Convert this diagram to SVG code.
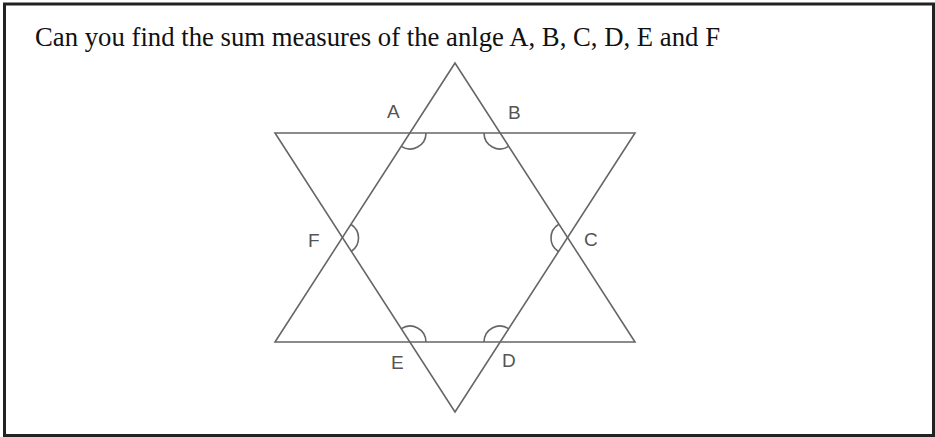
<svg xmlns="http://www.w3.org/2000/svg" width="935" height="437" viewBox="0 0 935 437">
<style>
.frame{fill:#fff;stroke:#222;stroke-width:3}
.title{font-family:"Liberation Serif","Times New Roman",serif;font-size:27px;fill:#111}
.line{fill:none;stroke:#666;stroke-width:1.6;stroke-linejoin:miter}
.arc{fill:none;stroke:#666;stroke-width:1.6}
.lbl{font-family:"Liberation Sans",Arial,sans-serif;font-size:19px;fill:#555}
</style>
<rect class="frame" x="4.5" y="4" width="929" height="431.5"/>
<text class="title" x="35" y="46" textLength="685" lengthAdjust="spacingAndGlyphs">Can you find the sum measures of the anlge A, B, C, D, E and F</text>
<g id="connectors">
<polygon id="up-triangle" class="line" points="455,63 275,342 635,342"/>
<polygon id="down-triangle" class="line" points="275,133 635,133 455,412"/>
</g>
<g id="A">
<path class="arc" d="M426,133 A16,16 0 0 1 401.3,146.4"/>
<text class="lbl" x="387" y="118">A</text>
</g>
<g id="B">
<path class="arc" d="M508.6,146.4 A16,16 0 0 1 484,133"/>
<text class="lbl" x="508" y="119">B</text>
</g>
<g id="C">
<path class="arc" d="M558.4,224.5 A16,16 0 0 0 558.4,251.5"/>
<text class="lbl" x="584" y="246">C</text>
</g>
<g id="D">
<path class="arc" d="M484,342 A16,16 0 0 1 508.6,328.6"/>
<text class="lbl" x="502" y="367">D</text>
</g>
<g id="E">
<path class="arc" d="M401.3,328.6 A16,16 0 0 1 426,342"/>
<text class="lbl" x="391" y="369">E</text>
</g>
<g id="F">
<path class="arc" d="M351.1,224.5 A16,16 0 0 1 351.1,251.5"/>
<text class="lbl" x="308" y="247">F</text>
</g>
</svg>
